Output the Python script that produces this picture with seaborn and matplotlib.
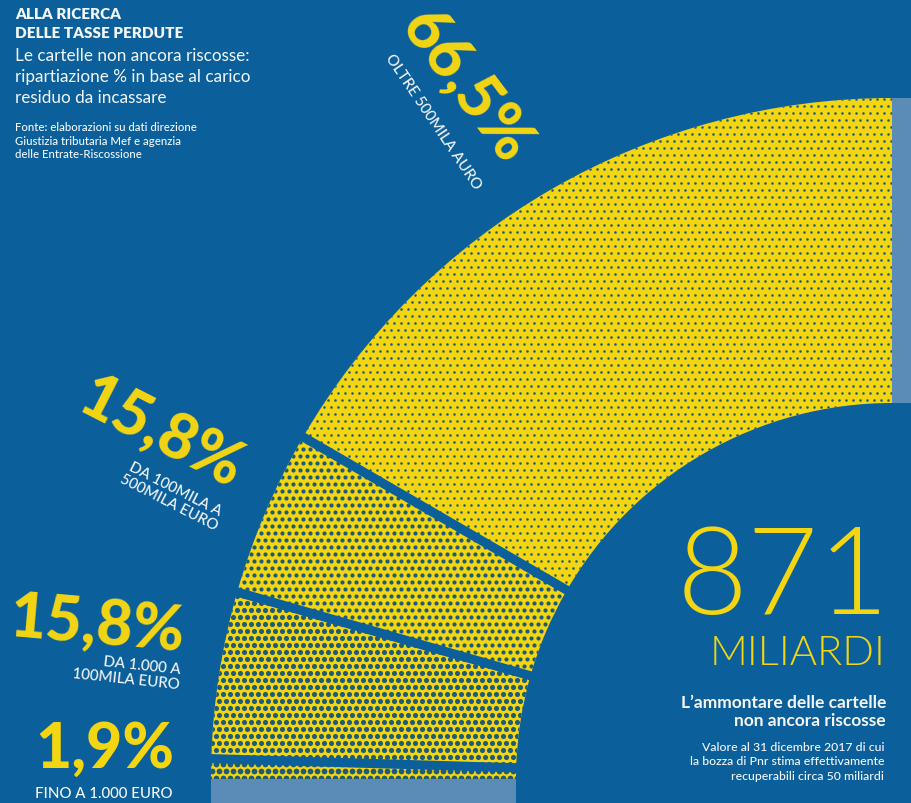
import numpy as np
import matplotlib
matplotlib.use("Agg")
import matplotlib.pyplot as plt
from matplotlib.patches import Rectangle
import seaborn as sns

# ---- data -------------------------------------------------------------
bands = ["FINO A 1.000 EURO", "DA 1.000 A\n100MILA EURO",
         "DA 100MILA A\n500MILA EURO", "OLTRE 500MILA AURO"]
shares = [1.9, 15.8, 15.8, 66.5]
share_labels = ["1,9%", "15,8%", "15,8%", "66,5%"]
total_value = "871"
total_unit = "MILIARDI"

# ---- style ------------------------------------------------------------
BG = "#0b609c"
YELLOW = "#f3d512"
DOT = "#1d5b78"
STRIP = "#5b8cb7"
WHITE = "#f4f6f8"

sns.set_theme(style="white")
plt.rcParams["font.family"] = ["Lato", "DejaVu Sans"]

W, H = 911, 804
fig = plt.figure(figsize=(W / 100, H / 100), dpi=100, facecolor=BG)
ax = fig.add_axes([0, 0, 1, 1])
ax.set_facecolor(BG)


def py(y):
    """pixel row (from top) -> data y (upwards)"""
    return H - y


cx, cy = 892, py(780)
R_out, R_in = 681, 376

# quarter-donut: the visible shares fill 90 degrees, the rest of the pie is hidden
hidden = 3 * sum(shares)
wedges, _ = ax.pie(shares + [hidden], startangle=180, counterclock=False,
                   radius=R_out, center=(cx, cy), frame=True,
                   colors=[YELLOW] * 4 + ["none"],
                   wedgeprops=dict(width=R_out - R_in, linewidth=0))
wedges[-1].set_visible(False)

# halftone texture for each band (denser dots for the smaller bands)
dot_sizes = [17, 13.5, 9, 3.4]
step = 7.0
gx, gy = np.meshgrid(np.arange(-20, 720, step), np.arange(-20, 720, step))
gx = gx + (np.arange(gx.shape[0])[:, None] % 2) * step / 2
ox = cx - gx.ravel()
oy = cy + gy.ravel()
rr = np.hypot(ox - cx, oy - cy)
th = np.degrees(np.arctan2(oy - cy, ox - cx))
for w, s in zip(wedges[:4], dot_sizes):
    t2, t1 = w.theta2, w.theta1
    m = (rr > R_in - 6) & (rr < R_out + 6) & (th > t1 - 2) & (th < t2 + 2)
    sc = ax.scatter(ox[m], oy[m], s=s, color=DOT, linewidths=0, zorder=3)
    sc.set_clip_path(w)

# blue gaps between bands
bounds = 180 - np.cumsum(shares)[:-1] * 0.9
for b in bounds:
    a = np.radians(b)
    ax.plot([cx + (R_in - 8) * np.cos(a), cx + (R_out + 8) * np.cos(a)],
            [cy + (R_in - 8) * np.sin(a), cy + (R_out + 8) * np.sin(a)],
            color=BG, lw=6.6, solid_capstyle="butt", zorder=4)

# grey strips continuing the ring at both ends
ax.add_patch(Rectangle((cx, cy + R_in), W - cx + 5, R_out - R_in,
                       color=STRIP, lw=0, zorder=2))
ax.add_patch(Rectangle((cx - R_out, cy - 40), R_out - R_in, 40,
                       color=STRIP, lw=0, zorder=2))

ax.set_xlim(0, W)
ax.set_ylim(0, H)
ax.set_aspect("auto")
ax.axis("off")

# ---- band labels ------------------------------------------------------
big = dict(color=YELLOW, fontweight="black", fontsize=45, ha="center",
           va="center", rotation_mode="anchor")
small = dict(color=WHITE, fontweight="medium", fontsize=10.8, ha="center",
             va="center", rotation_mode="anchor", linespacing=1.1)

ax.text(466, py(86), share_labels[3], rotation=-53, **big)
ax.text(433, py(122), bands[3], rotation=-56, **small)

ax.text(161, py(434), share_labels[2], rotation=-27, **big)
ax.text(172, py(496), bands[2], rotation=-27, **small)

ax.text(97, py(626), share_labels[1], rotation=-5, **big)
ax.text(180, py(678), bands[1], rotation=-6,
        **{**small, "ha": "right"})

ax.text(105, py(750), share_labels[0], **big)
ax.text(104, py(794), bands[0], **small)

# ---- headline ---------------------------------------------------------
ax.text(15, py(8), "ALLA RICERCA\nDELLE TASSE PERDUTE", color=WHITE,
        fontsize=11, fontweight="heavy", va="top", ha="left", linespacing=1.5)
ax.text(15, py(48), "Le cartelle non ancora riscosse:\n"
        "ripartiazione % in base al carico\nresiduo da incassare",
        color=WHITE, fontsize=12.3, va="top", ha="left", linespacing=1.38)
ax.text(15, py(122), "Fonte: elaborazioni su dati direzione\n"
        "Giustizia tributaria Mef e agenzia\ndelle Entrate-Riscossione",
        color=WHITE, fontsize=8.2, fontweight="medium", va="top", ha="left",
        linespacing=1.3)

# ---- total ------------------------------------------------------------
ax.text(889, py(581), total_value, color=YELLOW, fontsize=88,
        fontweight=300, ha="right", va="center")
ax.text(885, py(654), total_unit, color=YELLOW, fontsize=30,
        fontweight=300, ha="right", va="center")
ax.text(886, py(712), "L\u2019ammontare delle cartelle\nnon ancora riscosse",
        color=WHITE, fontsize=12.5, fontweight="bold", ha="right",
        va="center", linespacing=1.2)
ax.text(884, py(762), "Valore al 31 dicembre 2017 di cui\n"
        "la bozza di Pnr stima effettivamente\nrecuperabili circa 50 miliardi",
        color=WHITE, fontsize=8.8, fontweight="medium", ha="right",
        va="center", linespacing=1.35)

fig.savefig("out.png", dpi=100, facecolor=BG)
